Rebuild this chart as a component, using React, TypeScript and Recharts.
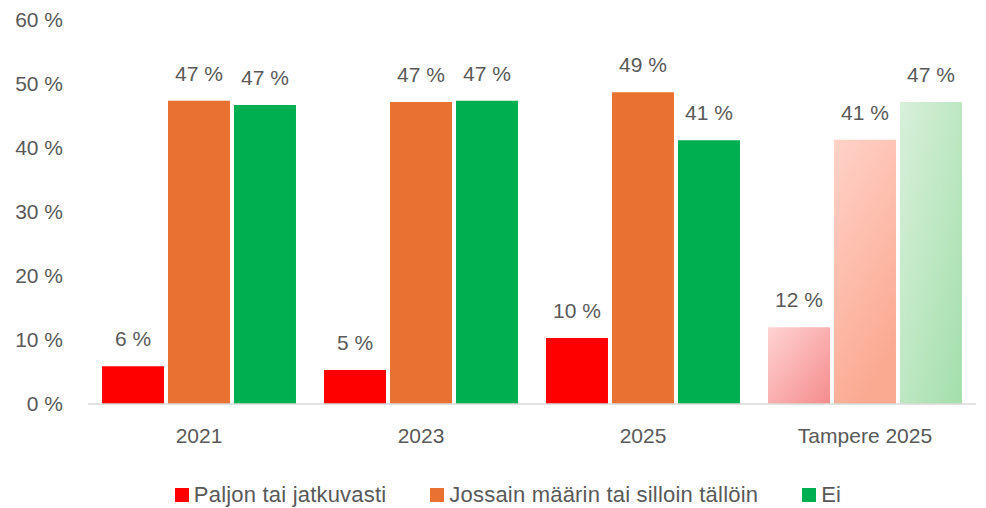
import React from 'react';
import { BarChart, Bar, XAxis, YAxis, Legend, Cell, LabelList } from 'recharts';

const categories = ['2021', '2023', '2025', 'Tampere 2025'];
const paljon = [5.9, 5.3, 10.3, 12.0];
const jossain = [47.4, 47.2, 48.7, 41.3];
const ei = [46.7, 47.4, 41.2, 47.2];
const yTicks = [0, 10, 20, 30, 40, 50, 60];

const seriesNames = ['Paljon tai jatkuvasti', 'Jossain määrin tai silloin tällöin', 'Ei'];
const seriesColors = ['#FF0000', '#E97132', '#00B050'];
const lightGradients = ['gradRed', 'gradOrange', 'gradGreen'];

const data = categories.map((c, i) => ({ name: c, paljon: paljon[i], jossain: jossain[i], ei: ei[i] }));
const keys = ['paljon', 'jossain', 'ei'];

const TEXT = '#595959';
const FONT = '"Liberation Sans", Arial, sans-serif';

const fmt = (v: any) => `${Math.round(Number(v))} %`;

const LegendContent = () => (
  <div style={{ display: 'flex', justifyContent: 'center', alignItems: 'center', fontFamily: FONT, fontSize: 22, letterSpacing: 0.2, color: TEXT, paddingLeft: 40, paddingTop: 4 }}>
    {seriesNames.map((n, i) => (
      <div key={n} style={{ display: 'flex', alignItems: 'center', marginRight: i < 2 ? 44 : 0 }}>
        <div style={{ width: 14, height: 14, background: seriesColors[i], marginRight: 5 }} />
        <span>{n}</span>
      </div>
    ))}
  </div>
);

export default function App() {
  return (
    <div style={{ position: 'absolute', left: 0, top: 0, width: 986, height: 508, background: '#fff' }}>
      <BarChart width={986} height={508} data={data} margin={{ top: 20, right: 10, left: 0, bottom: 0 }} barCategoryGap="6.3%" barGap={4}>
        <defs>
          <linearGradient id="gradRed" x1="0" y1="0" x2="1" y2="1">
            <stop offset="0%" stopColor="#FFD3D3" />
            <stop offset="100%" stopColor="#F58C8C" />
          </linearGradient>
          <linearGradient id="gradOrange" x1="0" y1="0" x2="0.4" y2="1">
            <stop offset="0%" stopColor="#FFD2C8" />
            <stop offset="100%" stopColor="#FBAA92" />
          </linearGradient>
          <linearGradient id="gradGreen" x1="0" y1="0" x2="1" y2="1">
            <stop offset="0%" stopColor="#D8F0DA" />
            <stop offset="100%" stopColor="#A3DFAB" />
          </linearGradient>
        </defs>
        <XAxis dataKey="name" axisLine={{ stroke: '#D9D9D9', strokeWidth: 1.5 }} tickLine={false} height={74} tickMargin={18}
          tick={{ fill: TEXT, fontSize: 21, fontFamily: FONT }} />
        <YAxis domain={[0, 60]} ticks={yTicks} axisLine={false} tickLine={false} width={88} tickMargin={19}
          tickFormatter={(v: number) => `${v} %`} tick={{ fill: TEXT, fontSize: 21, fontFamily: FONT }} />
        <Legend verticalAlign="bottom" height={30} content={<LegendContent />} />
        {keys.map((k, si) => (
          <Bar key={k} dataKey={k} name={seriesNames[si]} fill={seriesColors[si]} isAnimationActive={false}>
            {data.map((d, i) => (
              <Cell key={i} fill={i === 3 ? `url(#${lightGradients[si]})` : seriesColors[si]} />
            ))}
            <LabelList dataKey={k} position="top" offset={20} formatter={fmt} fill={TEXT} fontSize={21} fontFamily={FONT} />
          </Bar>
        ))}
      </BarChart>
    </div>
  );
}
